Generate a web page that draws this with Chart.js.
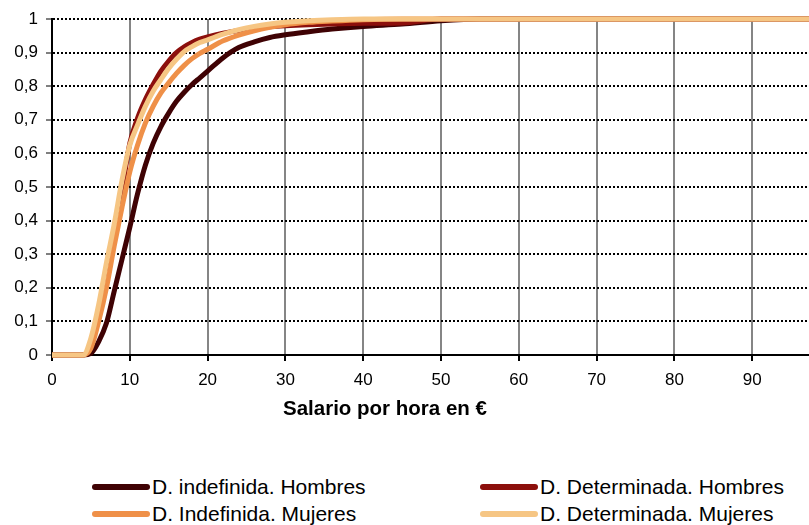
<!DOCTYPE html>
<html>
<head>
<meta charset="utf-8">
<script src="https://cdn.jsdelivr.net/npm/chart.js@4.4.1/dist/chart.umd.min.js"></script>
<style>
  html, body { margin: 0; padding: 0; background: #fff; }
  #wrap { position: relative; width: 809px; height: 525px; overflow: hidden; }
  #chart { position: absolute; left: 0; top: 0; }
  #xtitle {
    position: absolute; top: 396px; left: 283px;
    font: bold 20.5px 'Liberation Sans', Arial, sans-serif; color: #000;
    white-space: nowrap;
  }
  .leg { position: absolute; display: flex; align-items: center; white-space: nowrap;
    font: 21px 'Liberation Sans Narrow', 'Arial Narrow', 'Liberation Sans', sans-serif; color: #000; }
  .leg span.sw { display: inline-block; width: 58px; height: 6px; border-radius: 3px; margin-right: 2px; }
</style>
</head>
<body>
<div id="wrap">
  <canvas id="chart" width="809" height="440"></canvas>
  <div id="xtitle">Salario por hora en €</div>
  <div id="legend"></div>
</div>
<script>
// ── DATA ──
const salario = [0, 4, 5, 6, 7, 8, 9, 10, 11, 12, 13, 14, 15, 16, 17, 18, 19, 20, 22, 24, 26, 28, 30, 33, 36, 40, 45, 50, 55, 100];

const indefHombres = [0, 0, 0.005, 0.04, 0.095, 0.19, 0.285, 0.38, 0.48, 0.565, 0.63, 0.68, 0.72, 0.755, 0.782, 0.805, 0.825, 0.845, 0.885, 0.915, 0.932, 0.945, 0.953, 0.962, 0.97, 0.978, 0.985, 0.995, 1, 1];
const detHombres   = [0, 0, 0.03, 0.12, 0.24, 0.36, 0.49, 0.63, 0.705, 0.76, 0.805, 0.845, 0.875, 0.9, 0.917, 0.93, 0.94, 0.947, 0.958, 0.966, 0.972, 0.977, 0.98, 0.983, 0.985, 0.987, 0.988, 1, 1, 1];
const indefMujeres = [0, 0, 0.02, 0.1, 0.2, 0.325, 0.44, 0.545, 0.625, 0.69, 0.74, 0.78, 0.81, 0.838, 0.862, 0.882, 0.898, 0.91, 0.935, 0.952, 0.965, 0.975, 0.983, 0.99, 0.994, 0.998, 1, 1, 1, 1];
const detMujeres   = [0, 0, 0.05, 0.15, 0.275, 0.39, 0.52, 0.625, 0.685, 0.74, 0.785, 0.82, 0.853, 0.88, 0.903, 0.918, 0.93, 0.938, 0.955, 0.968, 0.978, 0.985, 0.99, 0.995, 0.998, 1, 1, 1, 1, 1];

const seriesLabels = ['D. indefinida. Hombres', 'D. Determinada. Hombres', 'D. Indefinida. Mujeres', 'D. Determinada. Mujeres'];
const seriesData   = [indefHombres, detHombres, indefMujeres, detMujeres];
const seriesColors = ['#3f0204', '#8c0f0c', '#ef9048', '#f6c684'];

const X_MAX = 97.3;
const FONT = "'Liberation Sans', Arial, sans-serif";

// ── CHART ──
const datasets = seriesData.map((ys, i) => ({
  label: seriesLabels[i],
  data: salario.map((x, j) => ({ x, y: ys[j] })),
  borderColor: seriesColors[i],
  backgroundColor: seriesColors[i],
  borderWidth: 5,
  pointRadius: 0,
  cubicInterpolationMode: 'monotone',
  clip: 8,
  order: 4 - i,
}));

new Chart(document.getElementById('chart'), {
  type: 'line',
  data: { datasets },
  options: {
    responsive: false,
    animation: false,
    layout: { padding: { top: 19, left: 0, right: 0, bottom: 0 } },
    plugins: { legend: { display: false }, tooltip: { enabled: false } },
    scales: {
      x: {
        type: 'linear',
        min: 0,
        max: X_MAX,
        afterFit: s => { s.height = 85; },
        ticks: {
          stepSize: 10,
          includeBounds: false,
          autoSkip: false,
          maxRotation: 0,
          padding: 9,
          color: '#000',
          font: { family: FONT, size: 17 },
        },
        grid: { color: '#858585', lineWidth: 2, tickColor: '#000', tickLength: 6, tickWidth: 2 },
        border: { color: '#000', width: 2 },
      },
      y: {
        min: 0,
        max: 1,
        afterFit: s => { s.width = 52; },
        ticks: {
          stepSize: 0.1,
          padding: 8,
          color: '#000',
          font: { family: FONT, size: 17 },
          callback: v => (v === 0 || v === 1) ? String(v) : v.toFixed(1).replace('.', ','),
        },
        grid: { color: '#000', lineWidth: 2, tickColor: '#000', tickLength: 6, tickWidth: 1 },
        border: { color: '#000', width: 2, dash: [2, 2] },
      },
    },
  },
});

// ── LEGEND ──
const legPos = [[92, 488], [480, 488], [92, 515], [480, 515]];
const legend = document.getElementById('legend');
seriesLabels.forEach((lab, i) => {
  const el = document.createElement('div');
  el.className = 'leg';
  el.style.left = legPos[i][0] + 'px';
  el.style.top = (legPos[i][1] - 13) + 'px';
  el.innerHTML = `<span class="sw" style="background:${seriesColors[i]}"></span>${lab}`;
  legend.appendChild(el);
});
</script>
</body>
</html>
